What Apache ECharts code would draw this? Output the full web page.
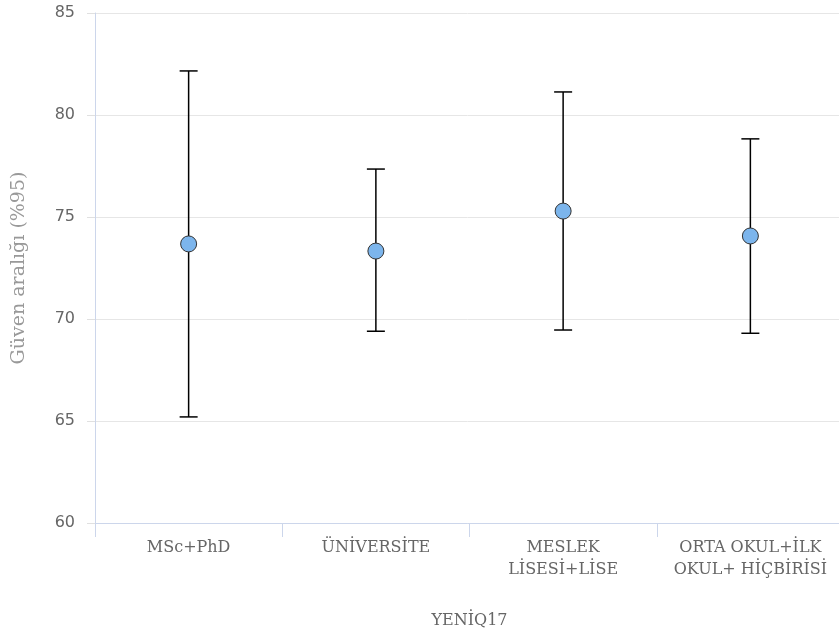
<!DOCTYPE html>
<html>
<head>
<meta charset="utf-8">
<script src="https://cdn.jsdelivr.net/npm/echarts@6/dist/echarts.min.js"></script>
<style>
html,body{margin:0;padding:0;background:#fff;}
#chart{width:839px;height:635px;}
</style>
</head>
<body>
<div id="chart"></div>
<script>
var categories = ['MSc+PhD', 'ÜNİVERSİTE', 'MESLEK\nLİSESİ+LİSE', 'ORTA OKUL+İLK\nOKUL+ HİÇBİRİSİ'];
var means = [73.68, 73.33, 75.29, 74.07];
var lows = [65.2, 69.4, 69.46, 69.3];
var highs = [82.16, 77.35, 81.13, 78.83];
var yTicks = {min: 60, max: 85, interval: 5};

var errData = categories.map(function (c, i) { return [i, lows[i], highs[i]]; });

var chart = echarts.init(document.getElementById('chart'), null, {renderer: 'canvas'});
chart.setOption({
  animation: false,
  backgroundColor: '#ffffff',
  grid: {left: 95, width: 749, top: 13, bottom: 112, containLabel: false, outerBoundsMode: 'none'},
  xAxis: {
    type: 'category',
    data: categories,
    name: 'YENİQ17',
    nameLocation: 'middle',
    nameGap: 90,
    nameTextStyle: {fontFamily: 'DejaVu Serif', fontSize: 16, color: '#666666'},
    axisLine: {show: true, lineStyle: {color: '#ccd6eb', width: 1}},
    axisTick: {show: true, alignWithLabel: false, length: 14, lineStyle: {color: '#ccd6eb'}},
    axisLabel: {fontFamily: 'DejaVu Serif', fontSize: 16, color: '#666666', margin: 14, lineHeight: 22, interval: 0},
    splitLine: {show: false}
  },
  yAxis: {
    type: 'value',
    min: yTicks.min, max: yTicks.max, interval: yTicks.interval,
    name: 'Güven aralığı (%95)',
    nameLocation: 'middle',
    nameGap: 66,
    nameTextStyle: {fontFamily: 'DejaVu Serif', fontSize: 19, color: '#999999'},
    axisLine: {show: true, lineStyle: {color: '#ccd6eb', width: 1}},
    axisTick: {show: true, length: 8, lineStyle: {color: '#e0e0e0'}},
    axisLabel: {fontFamily: 'DejaVu Sans', fontSize: 16, color: '#666666', margin: 20},
    splitLine: {show: true, lineStyle: {color: '#e6e6e6', width: 1}}
  },
  series: [
    {
      type: 'custom',
      data: errData,
      z: 2,
      renderItem: function (params, api) {
        var x = api.value(0);
        var lo = api.coord([x, api.value(1)]);
        var hi = api.coord([x, api.value(2)]);
        var hw = 9;
        var style = {stroke: '#000000', lineWidth: 1.5};
        return {
          type: 'group',
          children: [
            {type: 'line', shape: {x1: hi[0], y1: hi[1], x2: lo[0], y2: lo[1]}, style: style},
            {type: 'line', shape: {x1: hi[0] - hw, y1: hi[1], x2: hi[0] + hw, y2: hi[1]}, style: style},
            {type: 'line', shape: {x1: lo[0] - hw, y1: lo[1], x2: lo[0] + hw, y2: lo[1]}, style: style}
          ]
        };
      }
    },
    {
      type: 'scatter',
      data: means,
      z: 3,
      symbol: 'circle',
      symbolSize: 16,
      itemStyle: {color: '#7cb5ec', borderColor: '#333333', borderWidth: 1, opacity: 1}
    }
  ]
});
</script>
</body>
</html>
